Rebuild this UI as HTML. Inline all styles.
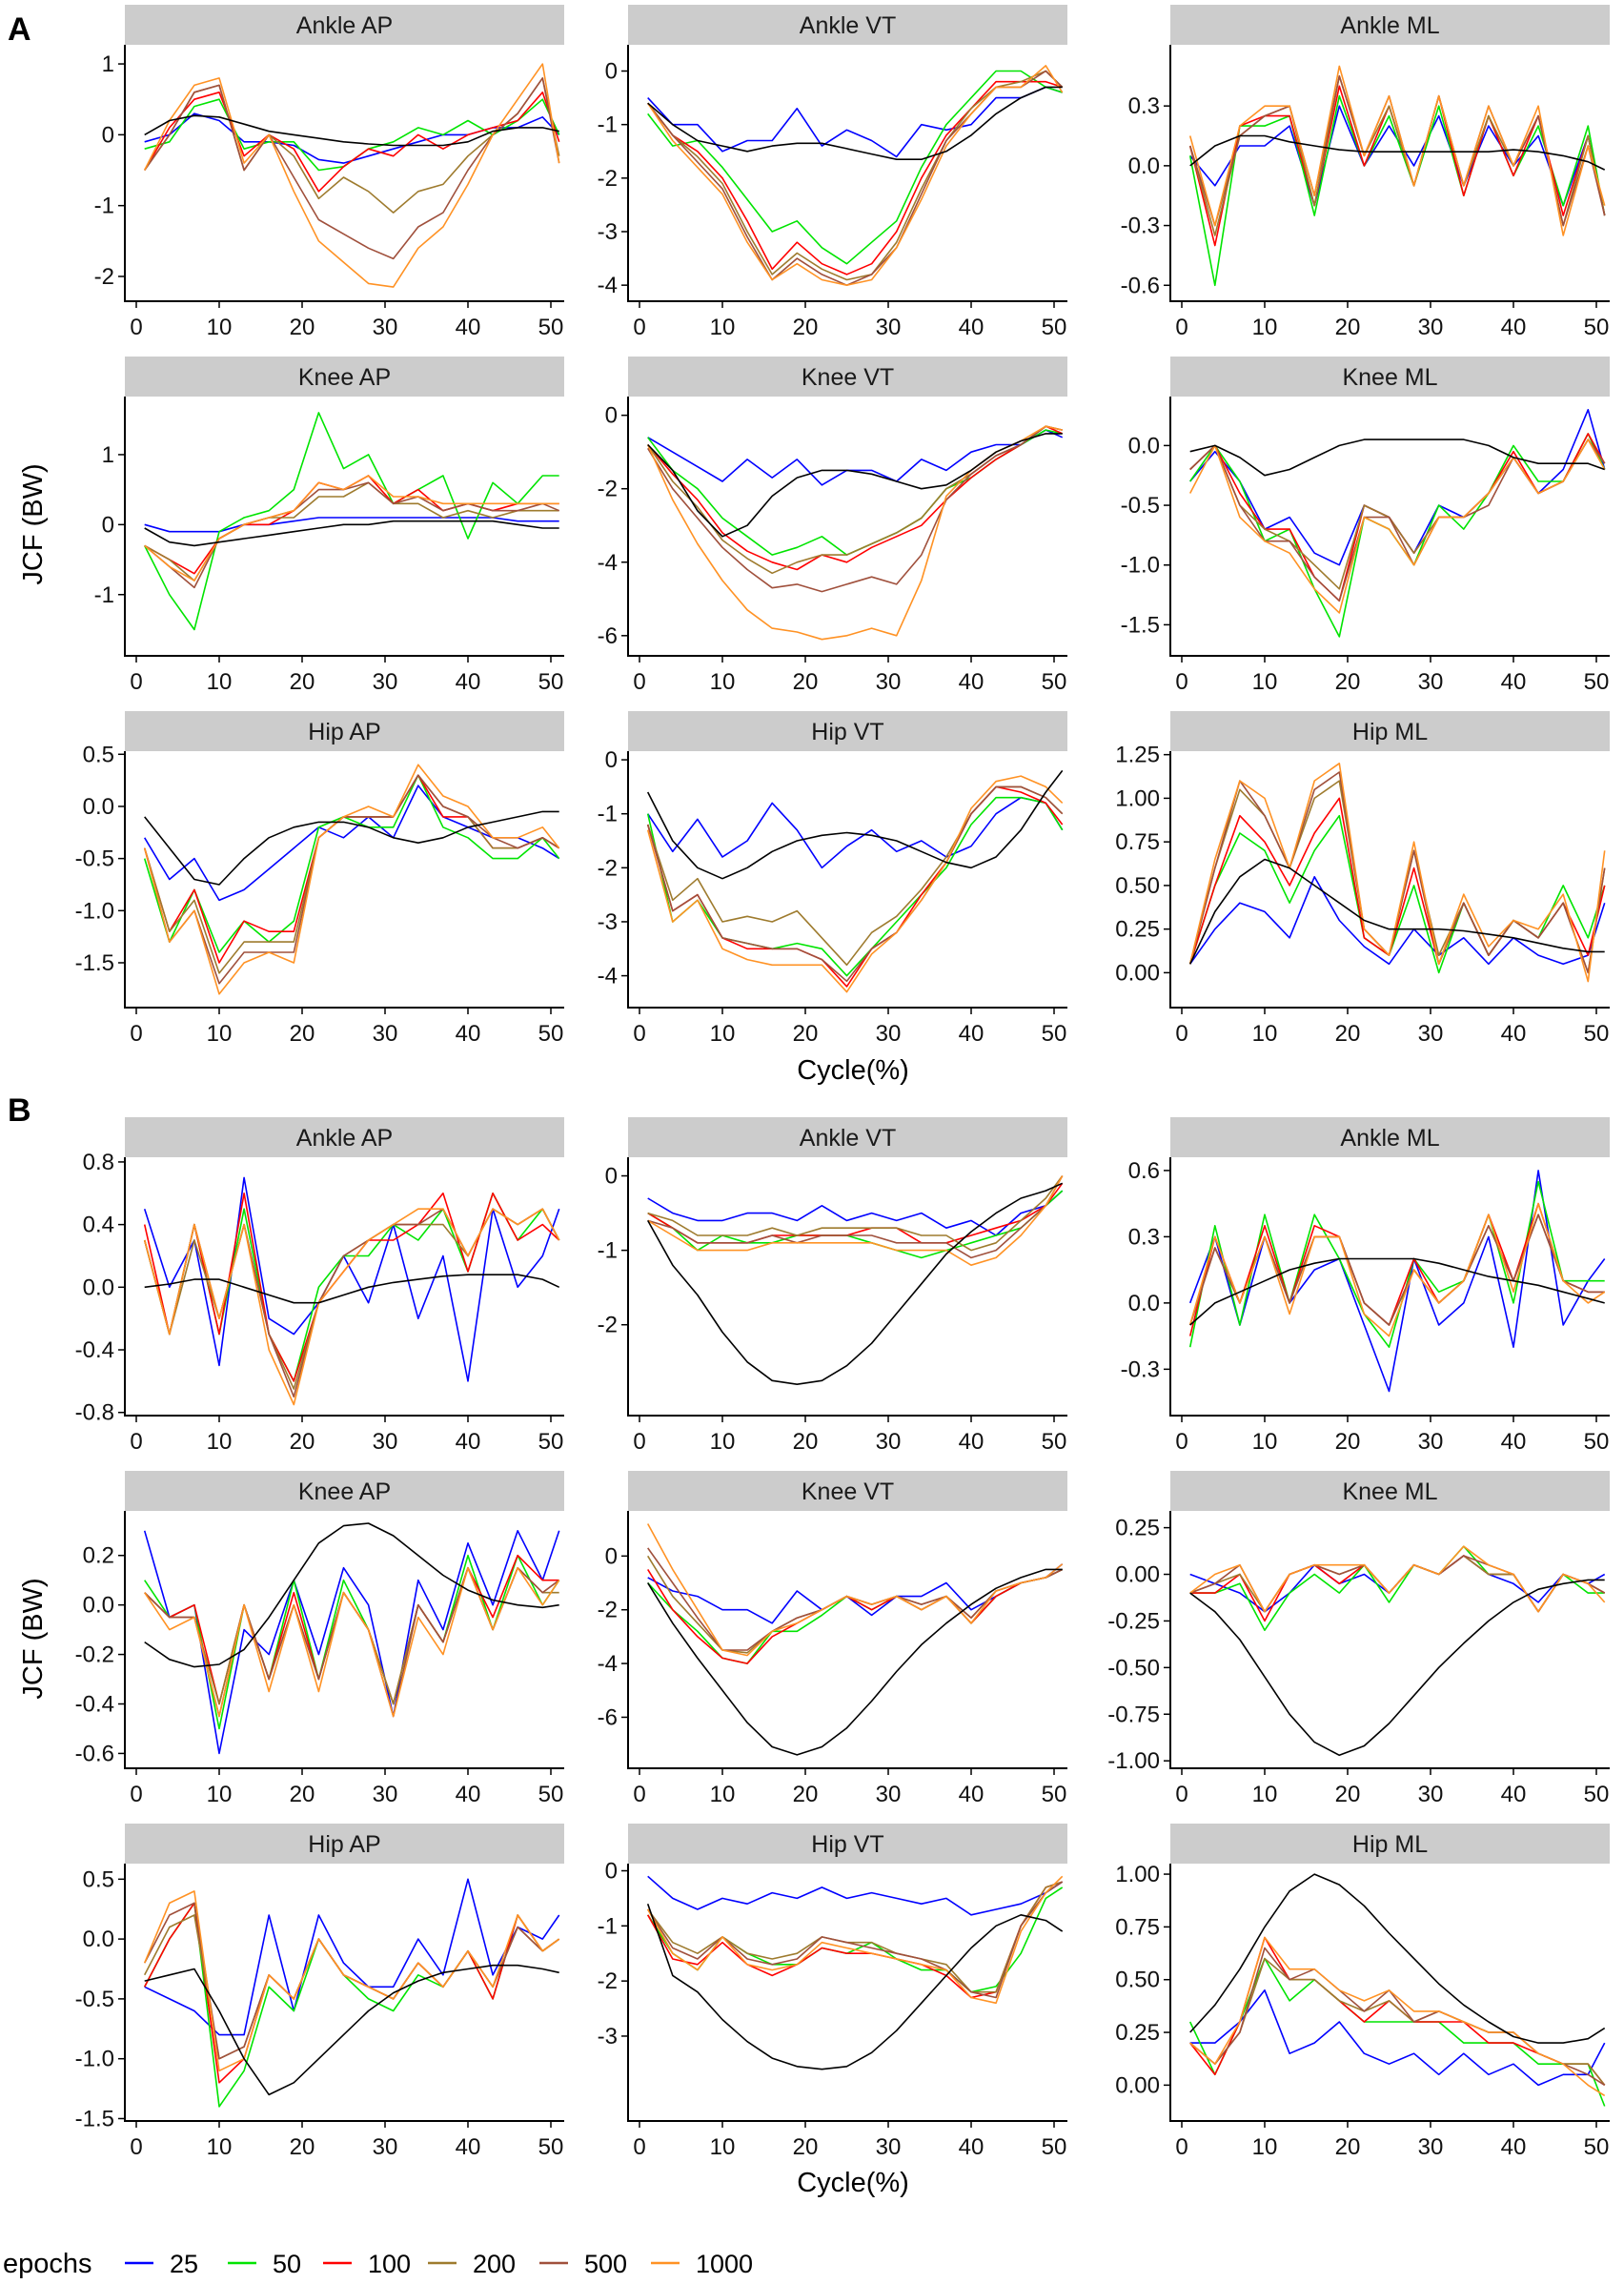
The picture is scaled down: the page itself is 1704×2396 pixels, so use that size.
<!DOCTYPE html>
<html><head><meta charset="utf-8">
<style>
html,body{margin:0;padding:0;background:#fff;}
svg{display:block;font-family:"Liberation Sans",Arial,sans-serif;}
</style></head>
<body>
<svg id="chart" width="1704" height="2396" viewBox="0 0 1704 2396" xmlns="http://www.w3.org/2000/svg">
<text x="8" y="42" font-size="34" font-weight="bold">A</text>
<text x="8" y="1176" font-size="34" font-weight="bold">B</text>
<text transform="translate(44,550) rotate(-90)" text-anchor="middle" font-size="29">JCF (BW)</text>
<text transform="translate(44,1719) rotate(-90)" text-anchor="middle" font-size="29">JCF (BW)</text>
<text x="895" y="1132" text-anchor="middle" font-size="29">Cycle(%)</text>
<text x="895" y="2299" text-anchor="middle" font-size="29">Cycle(%)</text>
<g id="legend">
<text x="3" y="2384" font-size="29">epochs</text>
</g>
<g id="panels"></g>
</svg>
<script>
const xs = [1,4,7,10,13,16,19,22,25,28,31,34,37,40,43,46,49,51];
const epochs = ["25","50","100","200","500","1000"];
const seriesColors = ["#0000ff","#00e400","#ff0000","#9e7b2e","#a0503c","#ff9224"];
const titles = ["Ankle AP","Ankle VT","Ankle ML","Knee AP","Knee VT","Knee ML","Hip AP","Hip VT","Hip ML"];
const xTicks = [0,10,20,30,40,50];

// ---------- Panel A ----------
const aAnkleAPTicks = ["1","0","-1","-2"];
const aAnkleAP = {
 truth:[0,0.2,0.27,0.25,0.15,0.05,0,-0.05,-0.1,-0.13,-0.15,-0.15,-0.15,-0.1,0.05,0.1,0.1,0.05],
 e25:[-0.1,0,0.3,0.2,-0.1,-0.1,-0.15,-0.35,-0.4,-0.3,-0.2,-0.1,0,0,0.1,0.1,0.25,0],
 e50:[-0.2,-0.1,0.4,0.5,-0.2,-0.1,-0.1,-0.5,-0.45,-0.2,-0.1,0.1,0,0.2,0,0.2,0.5,0],
 e100:[-0.5,0.1,0.5,0.6,-0.3,0,-0.2,-0.8,-0.45,-0.2,-0.3,0,-0.2,0,0.1,0.2,0.6,-0.1],
 e200:[-0.5,0,0.6,0.7,-0.5,0,-0.3,-0.9,-0.6,-0.8,-1.1,-0.8,-0.7,-0.3,0,0.3,0.8,-0.3],
 e500:[-0.5,0,0.6,0.7,-0.5,0,-0.6,-1.2,-1.4,-1.6,-1.75,-1.3,-1.1,-0.5,0,0.3,0.8,-0.4],
 e1000:[-0.5,0.2,0.7,0.8,-0.4,0,-0.8,-1.5,-1.8,-2.1,-2.15,-1.6,-1.3,-0.7,0,0.5,1.0,-0.4]};
const aAnkleVTTicks = ["0","-1","-2","-3","-4"];
const aAnkleVT = {
 truth:[-0.6,-1.0,-1.3,-1.4,-1.5,-1.4,-1.35,-1.35,-1.45,-1.55,-1.65,-1.65,-1.5,-1.2,-0.8,-0.5,-0.3,-0.3],
 e25:[-0.5,-1.0,-1.0,-1.5,-1.3,-1.3,-0.7,-1.4,-1.1,-1.3,-1.6,-1.0,-1.1,-1.0,-0.5,-0.5,-0.3,-0.4],
 e50:[-0.8,-1.4,-1.3,-1.8,-2.4,-3.0,-2.8,-3.3,-3.6,-3.2,-2.8,-1.8,-1.0,-0.5,0,0,-0.3,-0.4],
 e100:[-0.6,-1.2,-1.5,-2.0,-2.8,-3.7,-3.2,-3.6,-3.8,-3.6,-3.0,-2.0,-1.2,-0.7,-0.2,-0.2,-0.2,-0.3],
 e200:[-0.6,-1.2,-1.6,-2.1,-3.0,-3.8,-3.4,-3.7,-3.9,-3.8,-3.2,-2.2,-1.3,-0.7,-0.3,-0.2,0,-0.3],
 e500:[-0.6,-1.2,-1.7,-2.2,-3.1,-3.9,-3.5,-3.8,-4.0,-3.8,-3.3,-2.3,-1.3,-0.8,-0.3,-0.3,0,-0.3],
 e1000:[-0.6,-1.3,-1.8,-2.3,-3.2,-3.9,-3.6,-3.9,-4.0,-3.9,-3.3,-2.4,-1.4,-0.8,-0.3,-0.3,0.1,-0.4]};
const aAnkleMLTicks = ["0.3","0.0","-0.3","-0.6"];
const aAnkleML = {
 truth:[0,0.1,0.15,0.15,0.12,0.1,0.08,0.07,0.07,0.07,0.07,0.07,0.07,0.08,0.07,0.05,0.02,-0.02],
 e25:[0.05,-0.1,0.1,0.1,0.2,-0.2,0.3,0,0.2,0,0.25,-0.1,0.2,0,0.15,-0.2,0.15,-0.25],
 e50:[0.05,-0.6,0.2,0.2,0.25,-0.25,0.35,0,0.25,-0.1,0.3,-0.15,0.25,-0.05,0.2,-0.2,0.2,-0.25],
 e100:[0.1,-0.4,0.2,0.25,0.25,-0.2,0.4,0,0.3,-0.1,0.35,-0.15,0.25,-0.05,0.25,-0.25,0.15,-0.25],
 e200:[0.1,-0.35,0.15,0.25,0.3,-0.2,0.45,0.05,0.3,-0.1,0.35,-0.1,0.25,0,0.25,-0.3,0.15,-0.25],
 e500:[0.1,-0.3,0.15,0.25,0.3,-0.15,0.45,0.05,0.35,-0.1,0.35,-0.1,0.3,0,0.25,-0.3,0.1,-0.25],
 e1000:[0.15,-0.3,0.2,0.3,0.3,-0.15,0.5,0.05,0.35,-0.1,0.35,-0.1,0.3,0,0.3,-0.35,0.1,-0.2]};
const aKneeAPTicks = ["1","0","-1"];
const aKneeAP = {
 truth:[-0.05,-0.25,-0.3,-0.25,-0.2,-0.15,-0.1,-0.05,0,0,0.05,0.05,0.05,0.05,0.05,0,-0.05,-0.05],
 e25:[0,-0.1,-0.1,-0.1,0,0,0.05,0.1,0.1,0.1,0.1,0.1,0.1,0.1,0.1,0.05,0.05,0.05],
 e50:[-0.3,-1.0,-1.5,-0.1,0.1,0.2,0.5,1.6,0.8,1.0,0.3,0.5,0.7,-0.2,0.6,0.3,0.7,0.7],
 e100:[-0.3,-0.5,-0.7,-0.2,0,0,0.2,0.6,0.5,0.7,0.3,0.5,0.2,0.3,0.2,0.3,0.3,0.3],
 e200:[-0.3,-0.5,-0.8,-0.2,0,0.1,0.1,0.4,0.4,0.6,0.3,0.3,0.1,0.2,0.1,0.2,0.2,0.2],
 e500:[-0.3,-0.6,-0.9,-0.2,0,0.1,0.2,0.5,0.5,0.6,0.3,0.4,0.2,0.3,0.2,0.2,0.3,0.2],
 e1000:[-0.3,-0.6,-0.8,-0.2,0,0.1,0.2,0.6,0.5,0.7,0.4,0.4,0.3,0.3,0.3,0.3,0.3,0.3]};
const aKneeVTTicks = ["0","-2","-4","-6"];
const aKneeVT = {
 truth:[-0.8,-1.5,-2.6,-3.3,-3.0,-2.2,-1.7,-1.5,-1.5,-1.6,-1.8,-2.0,-1.9,-1.5,-1.0,-0.7,-0.5,-0.5],
 e25:[-0.6,-1.0,-1.4,-1.8,-1.2,-1.7,-1.2,-1.9,-1.5,-1.5,-1.8,-1.2,-1.5,-1.0,-0.8,-0.8,-0.4,-0.6],
 e50:[-0.6,-1.5,-2.0,-2.8,-3.3,-3.8,-3.6,-3.3,-3.8,-3.5,-3.2,-2.8,-2.0,-1.7,-1.2,-0.8,-0.4,-0.5],
 e100:[-0.8,-1.6,-2.3,-3.2,-3.7,-4.0,-4.2,-3.8,-4.0,-3.6,-3.3,-3.0,-2.3,-1.7,-1.2,-0.8,-0.3,-0.5],
 e200:[-0.8,-1.8,-2.5,-3.4,-3.9,-4.3,-4.0,-3.8,-3.8,-3.5,-3.2,-2.8,-2.0,-1.6,-1.1,-0.8,-0.3,-0.4],
 e500:[-0.9,-2.0,-2.8,-3.6,-4.2,-4.7,-4.6,-4.8,-4.6,-4.4,-4.6,-3.8,-2.3,-1.6,-1.1,-0.8,-0.3,-0.4],
 e1000:[-0.8,-2.3,-3.5,-4.5,-5.3,-5.8,-5.9,-6.1,-6.0,-5.8,-6.0,-4.5,-2.2,-1.5,-1.0,-0.7,-0.3,-0.4]};
const aKneeMLTicks = ["0.0","-0.5","-1.0","-1.5"];
const aKneeML = {
 truth:[-0.05,0,-0.1,-0.25,-0.2,-0.1,0,0.05,0.05,0.05,0.05,0.05,0,-0.1,-0.15,-0.15,-0.15,-0.2],
 e25:[-0.3,-0.05,-0.3,-0.7,-0.6,-0.9,-1.0,-0.5,-0.6,-0.9,-0.5,-0.6,-0.4,-0.1,-0.4,-0.2,0.3,-0.2],
 e50:[-0.3,0,-0.3,-0.8,-0.7,-1.2,-1.6,-0.6,-0.7,-1.0,-0.5,-0.7,-0.4,0,-0.3,-0.3,0.1,-0.2],
 e100:[-0.2,0,-0.4,-0.7,-0.7,-1.1,-1.3,-0.5,-0.6,-0.9,-0.6,-0.6,-0.4,-0.05,-0.4,-0.3,0.1,-0.15],
 e200:[-0.2,0,-0.5,-0.7,-0.8,-1.0,-1.2,-0.5,-0.6,-0.9,-0.6,-0.6,-0.4,-0.1,-0.4,-0.3,0.05,-0.15],
 e500:[-0.2,0,-0.5,-0.8,-0.8,-1.1,-1.3,-0.6,-0.6,-1.0,-0.6,-0.6,-0.5,-0.1,-0.4,-0.3,0.05,-0.15],
 e1000:[-0.4,0,-0.6,-0.8,-0.9,-1.2,-1.4,-0.6,-0.7,-1.0,-0.6,-0.6,-0.4,-0.1,-0.4,-0.3,0.05,-0.2]};
const aHipAPTicks = ["0.5","0.0","-0.5","-1.0","-1.5"];
const aHipAP = {
 truth:[-0.1,-0.4,-0.7,-0.75,-0.5,-0.3,-0.2,-0.15,-0.15,-0.2,-0.3,-0.35,-0.3,-0.2,-0.15,-0.1,-0.05,-0.05],
 e25:[-0.3,-0.7,-0.5,-0.9,-0.8,-0.6,-0.4,-0.2,-0.3,-0.1,-0.3,0.2,-0.1,-0.2,-0.3,-0.3,-0.4,-0.5],
 e50:[-0.5,-1.3,-0.8,-1.4,-1.1,-1.3,-1.1,-0.2,-0.1,-0.2,-0.2,0.3,-0.2,-0.3,-0.5,-0.5,-0.3,-0.5],
 e100:[-0.4,-1.2,-0.8,-1.5,-1.1,-1.2,-1.2,-0.3,-0.1,-0.1,-0.1,0.3,-0.1,-0.1,-0.4,-0.4,-0.3,-0.4],
 e200:[-0.4,-1.2,-0.9,-1.6,-1.3,-1.3,-1.3,-0.3,-0.1,-0.1,-0.1,0.3,0,-0.1,-0.4,-0.4,-0.3,-0.4],
 e500:[-0.4,-1.3,-1.0,-1.7,-1.4,-1.4,-1.4,-0.3,-0.1,-0.1,-0.1,0.3,0,-0.1,-0.3,-0.4,-0.3,-0.4],
 e1000:[-0.4,-1.3,-1.0,-1.8,-1.5,-1.4,-1.5,-0.3,-0.1,0,-0.1,0.4,0.1,0,-0.3,-0.3,-0.2,-0.4]};
const aHipVTTicks = ["0","-1","-2","-3","-4"];
const aHipVT = {
 truth:[-0.6,-1.5,-2.0,-2.2,-2.0,-1.7,-1.5,-1.4,-1.35,-1.4,-1.5,-1.7,-1.9,-2.0,-1.8,-1.3,-0.6,-0.2],
 e25:[-1.0,-1.7,-1.1,-1.8,-1.5,-0.8,-1.3,-2.0,-1.6,-1.3,-1.7,-1.5,-1.8,-1.6,-1.0,-0.7,-0.8,-1.3],
 e50:[-1.0,-3.0,-2.6,-3.3,-3.4,-3.5,-3.4,-3.5,-4.0,-3.5,-3.0,-2.5,-2.0,-1.2,-0.7,-0.7,-0.8,-1.3],
 e100:[-1.2,-2.8,-2.5,-3.3,-3.5,-3.5,-3.5,-3.7,-4.2,-3.5,-3.2,-2.5,-1.9,-1.0,-0.5,-0.6,-0.8,-1.2],
 e200:[-1.2,-2.6,-2.2,-3.0,-2.9,-3.0,-2.8,-3.3,-3.8,-3.2,-2.9,-2.4,-1.8,-1.0,-0.5,-0.5,-0.7,-1.0],
 e500:[-1.2,-2.8,-2.5,-3.3,-3.4,-3.5,-3.5,-3.7,-4.1,-3.5,-3.2,-2.6,-1.9,-1.0,-0.5,-0.5,-0.7,-1.0],
 e1000:[-1.3,-3.0,-2.6,-3.5,-3.7,-3.8,-3.8,-3.8,-4.3,-3.6,-3.2,-2.6,-1.9,-0.9,-0.4,-0.3,-0.5,-0.8]};
const aHipMLTicks = ["1.25","1.00","0.75","0.50","0.25","0.00"];
const aHipML = {
 truth:[0.05,0.35,0.55,0.65,0.6,0.5,0.4,0.3,0.25,0.25,0.25,0.24,0.22,0.2,0.17,0.14,0.12,0.12],
 e25:[0.05,0.25,0.4,0.35,0.2,0.55,0.3,0.15,0.05,0.25,0.1,0.2,0.05,0.2,0.1,0.05,0.1,0.4],
 e50:[0.05,0.5,0.8,0.7,0.4,0.7,0.9,0.2,0.1,0.5,0.0,0.4,0.1,0.3,0.2,0.5,0.2,0.5],
 e100:[0.05,0.5,0.9,0.75,0.5,0.8,1.0,0.2,0.1,0.6,0.05,0.4,0.1,0.3,0.2,0.4,0.1,0.5],
 e200:[0.05,0.6,1.05,0.9,0.6,1.0,1.1,0.25,0.1,0.7,0.1,0.4,0.1,0.3,0.2,0.4,0.0,0.6],
 e500:[0.05,0.6,1.1,0.9,0.6,1.05,1.15,0.25,0.1,0.7,0.05,0.4,0.1,0.3,0.2,0.4,0,0.6],
 e1000:[0.05,0.65,1.1,1.0,0.6,1.1,1.2,0.25,0.1,0.75,0.05,0.45,0.15,0.3,0.25,0.45,-0.05,0.7]};

// ---------- Panel B ----------
const bAnkleAPTicks = ["0.8","0.4","0.0","-0.4","-0.8"];
const bAnkleAP = {
 truth:[0,0.02,0.05,0.05,0,-0.05,-0.1,-0.1,-0.05,0,0.03,0.05,0.07,0.08,0.08,0.08,0.05,0],
 e25:[0.5,0,0.3,-0.5,0.7,-0.2,-0.3,-0.1,0.2,-0.1,0.4,-0.2,0.2,-0.6,0.5,0,0.2,0.5],
 e50:[0.3,-0.3,0.4,-0.3,0.5,-0.3,-0.6,0,0.2,0.2,0.4,0.3,0.5,0.1,0.6,0.3,0.5,0.3],
 e100:[0.4,-0.3,0.4,-0.3,0.6,-0.3,-0.6,-0.1,0.1,0.3,0.3,0.4,0.6,0.1,0.6,0.3,0.4,0.3],
 e200:[0.3,-0.3,0.3,-0.2,0.4,-0.3,-0.65,-0.1,0.2,0.3,0.4,0.4,0.4,0.2,0.5,0.4,0.5,0.3],
 e500:[0.3,-0.3,0.4,-0.2,0.4,-0.3,-0.7,-0.1,0.2,0.3,0.4,0.4,0.5,0.2,0.5,0.4,0.5,0.3],
 e1000:[0.3,-0.3,0.4,-0.2,0.4,-0.4,-0.75,-0.1,0.1,0.3,0.4,0.5,0.5,0.2,0.5,0.4,0.5,0.3]};
const bAnkleVTTicks = ["0","-1","-2"];
const bAnkleVT = {
 truth:[-0.6,-1.2,-1.6,-2.1,-2.5,-2.75,-2.8,-2.75,-2.55,-2.25,-1.85,-1.45,-1.05,-0.75,-0.5,-0.3,-0.2,-0.1],
 e25:[-0.3,-0.5,-0.6,-0.6,-0.5,-0.5,-0.6,-0.4,-0.6,-0.5,-0.6,-0.5,-0.7,-0.6,-0.8,-0.5,-0.4,-0.2],
 e50:[-0.5,-0.7,-1.0,-0.8,-0.9,-0.9,-0.8,-0.8,-0.8,-0.9,-1.0,-1.1,-1.0,-0.9,-0.8,-0.7,-0.4,-0.2],
 e100:[-0.5,-0.7,-0.9,-0.9,-0.9,-0.8,-0.8,-0.8,-0.8,-0.7,-0.7,-0.9,-0.9,-0.8,-0.7,-0.6,-0.4,-0.1],
 e200:[-0.5,-0.6,-0.8,-0.8,-0.8,-0.7,-0.8,-0.7,-0.7,-0.7,-0.7,-0.8,-0.8,-1.0,-0.9,-0.6,-0.3,0],
 e500:[-0.6,-0.7,-0.9,-0.9,-0.9,-0.8,-0.9,-0.8,-0.8,-0.8,-0.9,-0.9,-0.9,-1.1,-1.0,-0.7,-0.4,0],
 e1000:[-0.6,-0.8,-1.0,-1.0,-1.0,-0.9,-0.9,-0.9,-0.9,-0.9,-1.0,-1.0,-1.0,-1.2,-1.1,-0.8,-0.4,0]};
const bAnkleMLTicks = ["0.6","0.3","0.0","-0.3"];
const bAnkleML = {
 truth:[-0.1,0,0.05,0.1,0.15,0.18,0.2,0.2,0.2,0.2,0.18,0.15,0.12,0.1,0.08,0.05,0.02,0],
 e25:[0,0.3,-0.1,0.3,0,0.15,0.2,-0.1,-0.4,0.2,-0.1,0,0.3,-0.2,0.6,-0.1,0.1,0.2],
 e50:[-0.2,0.35,-0.1,0.4,0,0.4,0.2,-0.05,-0.2,0.2,0.05,0.1,0.4,0,0.55,0.1,0.1,0.1],
 e100:[-0.15,0.3,0,0.35,0,0.35,0.3,0,-0.1,0.2,0,0.1,0.4,0.1,0.45,0.1,0.05,0.05],
 e200:[-0.1,0.25,0,0.3,0,0.3,0.3,0,-0.1,0.15,0,0.1,0.35,0.1,0.4,0.1,0.05,0.05],
 e500:[-0.1,0.25,0,0.3,0,0.3,0.3,0,-0.1,0.15,0,0.1,0.35,0.1,0.4,0.1,0.05,0.05],
 e1000:[-0.1,0.3,0,0.3,-0.05,0.3,0.3,-0.05,-0.15,0.15,0,0.1,0.4,0.05,0.45,0.1,0,0.05]};
const bKneeAPTicks = ["0.2","0.0","-0.2","-0.4","-0.6"];
const bKneeAP = {
 truth:[-0.15,-0.22,-0.25,-0.24,-0.18,-0.05,0.1,0.25,0.32,0.33,0.28,0.2,0.12,0.06,0.02,0,-0.01,0],
 e25:[0.3,-0.05,0,-0.6,-0.1,-0.2,0.1,-0.2,0.15,0,-0.45,0.1,-0.1,0.25,0,0.3,0.1,0.3],
 e50:[0.1,-0.05,0,-0.5,0,-0.3,0.1,-0.3,0.1,-0.1,-0.4,0,-0.15,0.2,-0.1,0.2,0,0.1],
 e100:[0.05,-0.05,0,-0.4,0,-0.3,0.05,-0.3,0.05,-0.1,-0.4,0,-0.15,0.15,-0.05,0.2,0.1,0.1],
 e200:[0.05,-0.05,-0.05,-0.4,0,-0.3,0,-0.3,0.05,-0.1,-0.4,0,-0.15,0.15,-0.1,0.15,0.05,0.05],
 e500:[0.05,-0.05,-0.05,-0.45,0,-0.3,0,-0.3,0.05,-0.1,-0.45,0,-0.15,0.15,-0.1,0.15,0.05,0.1],
 e1000:[0.05,-0.1,-0.05,-0.45,0,-0.35,0,-0.35,0.05,-0.1,-0.45,-0.05,-0.2,0.15,-0.1,0.15,0,0.1]};
const bKneeVTTicks = ["0","-2","-4","-6"];
const bKneeVT = {
 truth:[-1.0,-2.5,-3.8,-5.0,-6.2,-7.1,-7.4,-7.1,-6.4,-5.4,-4.3,-3.3,-2.5,-1.8,-1.2,-0.8,-0.5,-0.5],
 e25:[-0.8,-1.3,-1.5,-2.0,-2.0,-2.5,-1.3,-2.0,-1.5,-2.2,-1.5,-1.5,-1.0,-2.0,-1.5,-1.0,-0.8,-0.3],
 e50:[-1.0,-2.0,-2.8,-3.8,-4.0,-2.8,-2.8,-2.2,-1.5,-2.0,-1.5,-2.0,-1.5,-2.5,-1.5,-1.0,-0.8,-0.5],
 e100:[-0.5,-2.0,-3.0,-3.8,-4.0,-3.0,-2.5,-2.0,-1.5,-2.0,-1.5,-2.0,-1.5,-2.5,-1.5,-1.0,-0.8,-0.5],
 e200:[0,-1.5,-2.5,-3.5,-3.6,-2.8,-2.3,-2.0,-1.5,-1.8,-1.5,-1.8,-1.5,-2.3,-1.3,-1.0,-0.8,-0.5],
 e500:[0.3,-1.0,-2.3,-3.5,-3.5,-2.8,-2.3,-2.0,-1.5,-1.8,-1.5,-1.8,-1.5,-2.3,-1.3,-1.0,-0.8,-0.5],
 e1000:[1.2,-0.5,-2.0,-3.5,-3.7,-2.8,-2.5,-2.0,-1.5,-1.8,-1.5,-2.0,-1.5,-2.5,-1.3,-1.0,-0.8,-0.3]};
const bKneeMLTicks = ["0.25","0.00","-0.25","-0.50","-0.75","-1.00"];
const bKneeML = {
 truth:[-0.1,-0.2,-0.35,-0.55,-0.75,-0.9,-0.97,-0.92,-0.8,-0.65,-0.5,-0.37,-0.25,-0.15,-0.08,-0.05,-0.03,-0.03],
 e25:[0,-0.05,-0.1,-0.2,-0.1,0.05,-0.05,0,-0.1,0.05,0,0.1,0,-0.05,-0.15,0,-0.05,0],
 e50:[-0.1,-0.1,-0.05,-0.3,-0.1,0,-0.1,0.05,-0.15,0.05,0,0.15,0,0,-0.2,0,-0.1,-0.1],
 e100:[-0.1,-0.1,0,-0.25,0,0.05,-0.05,0.05,-0.1,0.05,0,0.1,0,0,-0.2,0,-0.05,-0.1],
 e200:[-0.1,-0.05,0,-0.2,0,0.05,0,0.05,-0.1,0.05,0,0.1,0,0,-0.2,0,-0.05,-0.1],
 e500:[-0.1,-0.05,0.05,-0.2,0,0.05,0,0.05,-0.1,0.05,0,0.1,0.05,0,-0.2,0,-0.05,-0.1],
 e1000:[-0.1,0,0.05,-0.2,0,0.05,0.05,0.05,-0.1,0.05,0,0.15,0.05,0,-0.2,0,-0.05,-0.15]};
const bHipAPTicks = ["0.5","0.0","-0.5","-1.0","-1.5"];
const bHipAP = {
 truth:[-0.35,-0.3,-0.25,-0.6,-1.0,-1.3,-1.2,-1.0,-0.8,-0.6,-0.45,-0.35,-0.28,-0.25,-0.22,-0.22,-0.25,-0.28],
 e25:[-0.4,-0.5,-0.6,-0.8,-0.8,0.2,-0.6,0.2,-0.2,-0.4,-0.4,0,-0.3,0.5,-0.3,0.1,0,0.2],
 e50:[-0.4,0,0.3,-1.4,-1.1,-0.4,-0.6,0,-0.3,-0.5,-0.6,-0.3,-0.4,-0.1,-0.5,0.2,-0.1,0],
 e100:[-0.4,0,0.3,-1.2,-1.0,-0.3,-0.5,0,-0.3,-0.4,-0.5,-0.2,-0.4,-0.1,-0.5,0.2,-0.1,0],
 e200:[-0.3,0.1,0.2,-1.0,-0.9,-0.3,-0.5,0,-0.3,-0.4,-0.5,-0.2,-0.4,-0.1,-0.4,0.1,-0.1,0],
 e500:[-0.2,0.2,0.3,-1.0,-0.9,-0.3,-0.5,0,-0.3,-0.4,-0.5,-0.2,-0.4,-0.1,-0.4,0.1,-0.1,0],
 e1000:[-0.2,0.3,0.4,-1.1,-1.0,-0.3,-0.5,0,-0.3,-0.4,-0.5,-0.2,-0.4,-0.1,-0.4,0.2,-0.1,0]};
const bHipVTTicks = ["0","-1","-2","-3"];
const bHipVT = {
 truth:[-0.6,-1.9,-2.2,-2.7,-3.1,-3.4,-3.55,-3.6,-3.55,-3.3,-2.9,-2.4,-1.9,-1.4,-1.0,-0.8,-0.9,-1.1],
 e25:[-0.1,-0.5,-0.7,-0.5,-0.6,-0.4,-0.5,-0.3,-0.5,-0.4,-0.5,-0.6,-0.5,-0.8,-0.7,-0.6,-0.4,-0.2],
 e50:[-0.8,-1.5,-1.8,-1.2,-1.5,-1.7,-1.7,-1.4,-1.5,-1.3,-1.6,-1.8,-1.8,-2.2,-2.1,-1.5,-0.5,-0.3],
 e100:[-0.8,-1.6,-1.7,-1.3,-1.7,-1.9,-1.7,-1.4,-1.5,-1.5,-1.6,-1.7,-1.9,-2.3,-2.2,-1.0,-0.3,-0.2],
 e200:[-0.7,-1.3,-1.5,-1.2,-1.5,-1.6,-1.5,-1.2,-1.3,-1.3,-1.5,-1.6,-1.7,-2.2,-2.2,-1.0,-0.3,-0.2],
 e500:[-0.7,-1.4,-1.6,-1.2,-1.6,-1.7,-1.6,-1.2,-1.3,-1.4,-1.5,-1.6,-1.8,-2.2,-2.3,-1.0,-0.4,-0.2],
 e1000:[-0.7,-1.5,-1.8,-1.2,-1.7,-1.8,-1.7,-1.3,-1.4,-1.5,-1.6,-1.7,-1.8,-2.3,-2.4,-1.1,-0.4,-0.1]};
const bHipMLTicks = ["1.00","0.75","0.50","0.25","0.00"];
const bHipML = {
 truth:[0.25,0.38,0.55,0.75,0.92,1.0,0.95,0.85,0.72,0.6,0.48,0.38,0.3,0.23,0.2,0.2,0.22,0.27],
 e25:[0.2,0.2,0.3,0.45,0.15,0.2,0.3,0.15,0.1,0.15,0.05,0.15,0.05,0.1,0,0.05,0.05,0.2],
 e50:[0.3,0.05,0.3,0.6,0.4,0.5,0.4,0.3,0.3,0.3,0.3,0.2,0.2,0.2,0.1,0.1,0.1,-0.1],
 e100:[0.2,0.05,0.3,0.7,0.5,0.5,0.4,0.3,0.4,0.3,0.3,0.3,0.2,0.2,0.15,0.1,0.1,0],
 e200:[0.2,0.1,0.25,0.6,0.5,0.5,0.4,0.35,0.4,0.3,0.35,0.3,0.25,0.25,0.15,0.1,0.1,0],
 e500:[0.2,0.1,0.25,0.65,0.5,0.55,0.45,0.35,0.45,0.3,0.35,0.3,0.25,0.25,0.15,0.1,0.05,0],
 e1000:[0.2,0.1,0.3,0.7,0.55,0.55,0.45,0.4,0.45,0.35,0.35,0.3,0.25,0.25,0.15,0.1,0,-0.05]};

const panelData = [aAnkleAP,aAnkleVT,aAnkleML,aKneeAP,aKneeVT,aKneeML,aHipAP,aHipVT,aHipML,
  bAnkleAP,bAnkleVT,bAnkleML,bKneeAP,bKneeVT,bKneeML,bHipAP,bHipVT,bHipML];
const panelTicks = [aAnkleAPTicks,aAnkleVTTicks,aAnkleMLTicks,aKneeAPTicks,aKneeVTTicks,aKneeMLTicks,aHipAPTicks,aHipVTTicks,aHipMLTicks,
  bAnkleAPTicks,bAnkleVTTicks,bAnkleMLTicks,bKneeAPTicks,bKneeVTTicks,bKneeMLTicks,bHipAPTicks,bHipVTTicks,bHipMLTicks];
// y-axis ranges (top, bottom) of each plotting area
const yTop = [1.27,0.49,0.607,1.83,0.51,0.41,0.53,0.16,1.27, 0.83,0.25,0.66,0.38,1.68,0.34,0.63,0.13,1.05];
const yBot = [-2.35,-4.3,-0.68,-1.875,-6.55,-1.76,-1.93,-4.59,-0.2, -0.82,-3.22,-0.51,-0.66,-7.9,-1.04,-1.52,-4.54,-0.17];

const colLeft = [131,659,1228];
const stripTop = [5,374,746,1172,1543,1913];
const axisY = [316,688,1057,1485,1855,2225];
const NS = "http://www.w3.org/2000/svg";
const root = document.getElementById("panels");
function mk(tag, attrs, parent){const e=document.createElementNS(NS,tag);for(const k in attrs)e.setAttribute(k,attrs[k]);parent.appendChild(e);return e;}

for(let p=0;p<18;p++){
  const row=Math.floor(p/3), col=p%3;
  const L=colLeft[col], W=461, sT=stripTop[row], pT=sT+42, aY=axisY[row];
  const g=mk("g",{},root);
  
  
  const xS=v=>L+12+v*(435/50);
  const yS=v=>pT+(yTop[p]-v)/(yTop[p]-yBot[p])*(aY-pT);
  const strip=mk("rect",{x:L,y:sT,width:W,height:42,fill:"#cccccc"},g);
  
  
  const st=mk("text",{x:L+W/2,y:sT+30,"text-anchor":"middle","font-size":"25",fill:"#1a1a1a"},g);
  st.textContent=titles[p%9];
  
  
  // series
  const keys=["e25","e50","e100","e200","e500","e1000","truth"];
  const cols=seriesColors.concat(["#000000"]);
  keys.forEach((k,i)=>{
    const vals=panelData[p][k];
    const pts=vals.map((v,j)=>xS(xs[j]).toFixed(1)+","+yS(v).toFixed(1)).join(" ");
    const pl=mk("polyline",{points:pts,fill:"none",stroke:cols[i],"stroke-width":"1.6","stroke-linejoin":"round"},g);
    
    
  });
  // axes
  const ax=mk("path",{d:`M${L},${pT} V${aY} H${L+W}`,fill:"none",stroke:"#000","stroke-width":"2"},g);
  
  
  xTicks.forEach(t=>{
    const x=xS(t);
    mk("line",{x1:x,y1:aY,x2:x,y2:aY+7,stroke:"#000","stroke-width":"1.5"},g);
    const tx=mk("text",{x:x,y:aY+35,"text-anchor":"middle","font-size":"24",fill:"#111"},g);
    tx.textContent=t;
    
    
  });
  panelTicks[p].forEach(lab=>{
    const y=yS(parseFloat(lab));
    mk("line",{x1:L-7,y1:y,x2:L,y2:y,stroke:"#000","stroke-width":"1.5"},g);
    const ty=mk("text",{x:L-11,y:y+8,"text-anchor":"end","font-size":"24",fill:"#111"},g);
    ty.textContent=lab;
    
    
  });
}
// legend
const lg=document.getElementById("legend");
const legKeyX=[131,239,339,449,566,683];
epochs.forEach((e,i)=>{
  const ln=mk("line",{x1:legKeyX[i],y1:2374,x2:legKeyX[i]+30,y2:2374,stroke:seriesColors[i],"stroke-width":"2.5"},lg);
  
  
  const t=mk("text",{x:legKeyX[i]+47,y:2384,"font-size":"27"},lg);
  t.textContent=e;
  
  
});
</script>
</body></html>
